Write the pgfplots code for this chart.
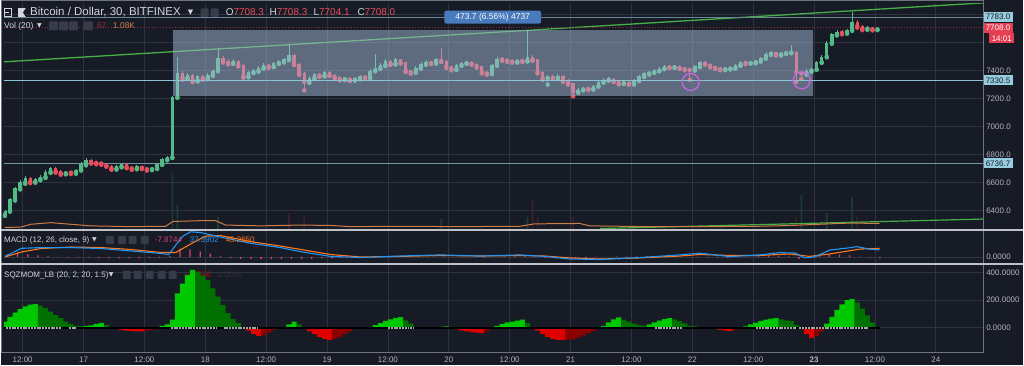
\documentclass[border=0pt]{standalone}
\usepackage{pgfplots}
\pgfplotsset{compat=1.18}
\usepackage{pgfplotstable}
\usepackage{fontspec}
\setmainfont{Liberation Sans}
\newfontfamily\symfont{DejaVu Sans}
\newcommand{\fs}[1]{\fontsize{#1}{#1}\selectfont}
\definecolor{bg}{RGB}{23,27,38}
\definecolor{gridc}{RGB}{46,51,66}
\definecolor{upc}{RGB}{83,185,135}
\definecolor{dnc}{RGB}{235,77,92}
\definecolor{axtext}{RGB}{178,181,190}
\definecolor{titlec}{RGB}{209,212,220}
\definecolor{lblue}{RGB}{150,205,222}
\definecolor{hlA}{RGB}{105,135,150}
\definecolor{hlB}{RGB}{140,195,215}
\definecolor{hlC}{RGB}{115,150,165}
\definecolor{redbox}{RGB}{230,62,82}
\definecolor{pline}{RGB}{150,40,55}
\definecolor{tgreen}{RGB}{70,175,70}
\definecolor{macdblue}{RGB}{33,150,243}
\definecolor{macdorange}{RGB}{255,120,30}
\definecolor{macdhist}{RGB}{215,65,110}
\definecolor{volma}{RGB}{205,125,70}
\definecolor{volg}{RGB}{28,62,48}
\definecolor{volr}{RGB}{62,32,42}
\definecolor{sqlime}{RGB}{0,200,0}
\definecolor{sqdark}{RGB}{0,112,0}
\definecolor{sqred}{RGB}{225,0,0}
\definecolor{sqmaroon}{RGB}{140,0,0}
\definecolor{measure}{RGB}{165,185,215}
\definecolor{measbox}{RGB}{72,122,188}
\definecolor{circ}{RGB}{200,100,225}
\definecolor{sepc}{RGB}{190,193,200}
\definecolor{borderc}{RGB}{110,115,125}
\definecolor{btn}{RGB}{55,60,74}

\pgfplotstableread{
t o c h l
8.5 6370 6395 6400 6360
9.5 6395 6480 6490 6390
10.5 6480 6560 6570 6470
11.5 6560 6600 6615 6550
12.5 6600 6630 6645 6590
13.5 6630 6605 6640 6595
14.5 6605 6625 6635 6598
15.5 6625 6640 6650 6615
16.5 6640 6675 6690 6632
17.5 6675 6700 6712 6668
18.5 6700 6680 6708 6670
19.5 6680 6665 6688 6655
20.5 6665 6675 6684 6658
21.5 6675 6670 6682 6660
22.5 6670 6690 6698 6662
23.5 6690 6730 6745 6685
24.5 6730 6760 6775 6722
25.5 6760 6745 6768 6735
26.5 6745 6740 6752 6730
27.5 6740 6735 6750 6726
28.5 6735 6720 6742 6712
29.5 6720 6700 6728 6690
30.5 6700 6715 6722 6692
31.5 6715 6730 6738 6708
32.5 6730 6710 6736 6702
33.5 6710 6700 6718 6690
34.5 6700 6715 6722 6694
35.5 6715 6705 6720 6696
36.5 6705 6695 6712 6685
37.5 6695 6700 6708 6688
38.5 6700 6730 6738 6696
39.5 6730 6765 6775 6725
40.5 6765 6780 6792 6758
41.5 6780 7210 7220 6775
42.5 7210 7380 7497 7205
43.5 7380 7350 7395 7335
44.5 7350 7370 7385 7340
45.5 7370 7330 7378 7318
46.5 7330 7360 7372 7322
47.5 7360 7345 7368 7335
48.5 7345 7370 7380 7338
49.5 7370 7400 7412 7362
50.5 7400 7490 7564 7395
51.5 7490 7470 7505 7458
52.5 7470 7455 7480 7445
53.5 7455 7470 7482 7448
54.5 7470 7440 7475 7430
55.5 7440 7360 7445 7350
56.5 7360 7390 7400 7352
57.5 7390 7400 7412 7382
58.5 7400 7420 7430 7392
59.5 7420 7440 7452 7414
60.5 7440 7430 7448 7420
61.5 7430 7455 7465 7425
62.5 7455 7465 7478 7448
63.5 7465 7480 7492 7458
64.5 7480 7510 7588 7475
65.5 7510 7450 7518 7440
66.5 7450 7380 7458 7370
67.5 7380 7320 7388 7259
68.5 7320 7350 7362 7312
69.5 7350 7375 7385 7340
70.5 7375 7365 7384 7355
71.5 7365 7390 7400 7358
72.5 7390 7370 7395 7362
73.5 7370 7355 7378 7345
74.5 7355 7340 7362 7330
75.5 7340 7350 7358 7332
76.5 7350 7335 7356 7325
77.5 7335 7345 7352 7328
78.5 7345 7360 7368 7338
79.5 7360 7350 7366 7342
80.5 7350 7400 7410 7345
81.5 7400 7420 7521 7395
82.5 7420 7440 7452 7412
83.5 7440 7470 7486 7432
84.5 7470 7450 7478 7440
85.5 7450 7480 7490 7444
86.5 7480 7460 7486 7450
87.5 7460 7400 7465 7390
88.5 7400 7390 7408 7378
89.5 7390 7420 7430 7384
90.5 7420 7450 7462 7414
91.5 7450 7465 7475 7442
92.5 7465 7455 7472 7446
93.5 7455 7480 7490 7450
94.5 7480 7470 7564 7462
95.5 7470 7430 7476 7420
96.5 7430 7410 7436 7402
97.5 7410 7440 7450 7405
98.5 7440 7455 7465 7434
99.5 7455 7460 7470 7448
100.5 7460 7450 7466 7442
101.5 7450 7430 7456 7422
102.5 7430 7390 7434 7380
103.5 7390 7380 7396 7370
104.5 7380 7440 7450 7375
105.5 7440 7485 7496 7434
106.5 7485 7480 7492 7470
107.5 7480 7470 7488 7462
108.5 7470 7465 7478 7456
109.5 7465 7475 7484 7458
110.5 7475 7470 7482 7462
111.5 7470 7500 7690 7465
112.5 7500 7480 7515 7470
113.5 7480 7390 7486 7380
114.5 7390 7345 7396 7335
115.5 7345 7360 7372 7300
116.5 7360 7350 7368 7340
117.5 7350 7365 7375 7342
118.5 7365 7330 7370 7320
119.5 7330 7310 7338 7300
120.5 7310 7250 7315 7216
121.5 7250 7265 7275 7242
122.5 7265 7275 7284 7258
123.5 7275 7270 7282 7262
124.5 7270 7290 7298 7264
125.5 7290 7320 7330 7285
126.5 7320 7335 7345 7314
127.5 7335 7340 7352 7328
128.5 7340 7325 7346 7318
129.5 7325 7310 7330 7302
130.5 7310 7320 7328 7304
131.5 7320 7305 7325 7298
132.5 7305 7330 7338 7300
133.5 7330 7360 7368 7325
134.5 7360 7380 7390 7354
135.5 7380 7390 7398 7372
136.5 7390 7400 7410 7384
137.5 7400 7415 7424 7395
138.5 7415 7430 7440 7410
139.5 7430 7425 7438 7418
140.5 7425 7435 7444 7420
141.5 7435 7420 7440 7412
142.5 7420 7410 7426 7402
143.5 7410 7405 7418 7335
144.5 7405 7430 7440 7400
145.5 7430 7460 7470 7425
146.5 7460 7450 7466 7442
147.5 7450 7430 7456 7424
148.5 7430 7420 7436 7412
149.5 7420 7410 7426 7402
150.5 7410 7415 7422 7404
151.5 7415 7420 7428 7408
152.5 7420 7440 7448 7414
153.5 7440 7460 7468 7434
154.5 7460 7455 7466 7446
155.5 7455 7460 7468 7450
156.5 7460 7470 7478 7452
157.5 7470 7490 7500 7464
158.5 7490 7520 7530 7485
159.5 7520 7530 7540 7512
160.5 7530 7515 7536 7508
161.5 7515 7525 7532 7508
162.5 7525 7530 7538 7518
163.5 7530 7535 7581 7524
164.5 7535 7390 7540 7319
165.5 7390 7380 7398 7340
166.5 7380 7400 7410 7372
167.5 7400 7410 7418 7392
168.5 7410 7460 7470 7405
169.5 7460 7500 7512 7455
170.5 7500 7600 7612 7495
171.5 7600 7660 7672 7592
172.5 7660 7680 7692 7652
173.5 7680 7670 7690 7660
174.5 7670 7690 7700 7664
175.5 7690 7750 7819 7685
176.5 7750 7720 7760 7708
177.5 7720 7700 7726 7690
178.5 7700 7710 7718 7692
179.5 7710 7695 7715 7688
180.5 7695 7708 7710 7690
}\candles

\pgfplotstableread{
t v k
8.5 45 1
9.5 80 1
10.5 110 1
11.5 135 1
12.5 155 1
13.5 168 1
14.5 171 1
15.5 160 2
16.5 142 2
17.5 118 2
18.5 94 2
19.5 70 2
20.5 46 2
21.5 28 2
22.5 14 2
23.5 12 2
24.5 15 1
25.5 18 1
26.5 28 1
27.5 36 1
28.5 20 2
29.5 5 2
30.5 -5 3
31.5 -15 3
32.5 -20 3
33.5 -22 3
34.5 -25 3
35.5 -26 3
36.5 -20 4
37.5 -12 4
38.5 -4 4
39.5 15 1
40.5 25 1
41.5 60 1
42.5 250 1
43.5 320 1
44.5 383 1
45.5 419 1
46.5 405 2
47.5 380 2
48.5 347 2
49.5 285 2
50.5 226 2
51.5 165 2
52.5 106 2
53.5 65 2
54.5 34 2
55.5 5 2
56.5 -20 3
57.5 -45 3
58.5 -60 3
59.5 -55 4
60.5 -35 4
61.5 -15 4
62.5 -3 4
63.5 5 1
64.5 25 1
65.5 46 1
66.5 25 2
67.5 -3 3
68.5 -25 3
69.5 -45 3
70.5 -65 3
71.5 -80 3
72.5 -87 3
73.5 -80 4
74.5 -65 4
75.5 -45 4
76.5 -25 4
77.5 -5 4
78.5 2 1
79.5 3 1
80.5 5 1
81.5 20 1
82.5 35 1
83.5 50 1
84.5 62 1
85.5 72 1
86.5 77 1
87.5 55 2
88.5 30 2
89.5 8 2
90.5 5 2
91.5 4 2
92.5 6 1
93.5 5 2
94.5 8 1
95.5 10 1
96.5 4 2
97.5 -10 3
98.5 -18 3
99.5 -25 3
100.5 -30 3
101.5 -35 3
102.5 -38 3
103.5 -25 4
104.5 -8 4
105.5 15 1
106.5 28 1
107.5 40 1
108.5 46 1
109.5 52 1
110.5 60 1
111.5 35 2
112.5 5 2
113.5 -20 3
114.5 -45 3
115.5 -65 3
116.5 -80 3
117.5 -87 3
118.5 -87 3
119.5 -86 4
120.5 -84 4
121.5 -70 4
122.5 -55 4
123.5 -40 4
124.5 -22 4
125.5 -5 4
126.5 15 1
127.5 40 1
128.5 62 1
129.5 75 1
130.5 60 2
131.5 45 2
132.5 30 2
133.5 20 2
134.5 15 2
135.5 25 1
136.5 40 1
137.5 52 1
138.5 63 1
139.5 70 1
140.5 62 2
141.5 48 2
142.5 32 2
143.5 15 2
144.5 10 2
145.5 5 2
146.5 2 2
147.5 -2 3
148.5 -8 3
149.5 -15 3
150.5 -20 3
151.5 -22 3
152.5 -12 4
153.5 -3 4
154.5 10 1
155.5 25 1
156.5 38 1
157.5 50 1
158.5 60 1
159.5 66 1
160.5 70 1
161.5 62 2
162.5 55 2
163.5 50 2
164.5 20 2
165.5 -10 3
166.5 -45 3
167.5 -75 3
168.5 -60 4
169.5 -25 4
170.5 30 1
171.5 80 1
172.5 130 1
173.5 170 1
174.5 200 1
175.5 209 1
176.5 185 2
177.5 140 2
178.5 90 2
179.5 40 2
180.5 8 2
}\sqz

\pgfplotstableread{
t v
9 15
11 22
13 15
15 8
17 4
19 -2
21 -3
23 -4
25 -4
27 -5
29 -7
31 -8
33 -8
35 -7
37 -6
39 -5
41 5
43 45
45 40
47 30
49 18
51 5
53 -6
55 -10
57 -11
59 -12
61 -12
63 -11
65 -10
67 -11
69 -10
71 -8
73 -7
75 -5
77 -4
79 -3
81 -2
83 2
85 4
87 3
89 1
91 2
93 3
95 2
97 -1
99 -2
101 -2
103 -3
105 1
107 3
109 3
111 4
113 -1
115 -5
117 -7
119 -8
121 -7
123 -5
125 -2
127 1
129 3
131 2
133 3
135 4
137 5
139 4
141 3
143 1
145 2
147 -2
149 -3
151 -4
153 -2
155 1
157 3
159 5
161 4
163 3
165 -10
167 -6
169 8
171 14
173 12
175 9
177 2
179 -4
181 -8
}\macdhist

\pgfplotsset{
  upf/.style={restrict expr to domain={\thisrow{c}-\thisrow{o}}{0:100000}},
  dnf/.style={restrict expr to domain={\thisrow{o}-\thisrow{c}}{0.05:100000}},
  kis/.style={restrict expr to domain={\thisrow{k}-#1}{-0.5:0.5}},
  tv/.style={scale only axis, width=981pt, xmin=8.32, xmax=201.31,
    axis line style={draw=none}, tick style={draw=none},
    xtick={12,24,...,192}, xticklabels={},
    xmajorgrids, ymajorgrids,
    major grid style={draw=gridc, line width=0.8pt},
    yticklabel pos=right,
    yticklabel style={font=\fs{8}, text=axtext, anchor=west, inner sep=0pt, xshift=3pt},
    clip mode=individual, anchor=south west},
  wick/.style={only marks, mark=none, forget plot, error bars/.cd, y dir=plus, y explicit, error mark=none, error bar style={line width=0.8pt}},
  body/.style={only marks, mark=none, forget plot, error bars/.cd, y dir=plus, y explicit, error mark=none, error bar style={line width=3.4pt}},
}
\tikzset{btnst/.style={fill=btn, rounded corners=1pt, draw=none}}

\begin{document}
\begin{tikzpicture}
\fill[bg] (0,0) rectangle (1024pt,365pt);

% ---------------- volume overlay (behind price) ----------------
\begin{axis}[scale only axis, width=981pt, height=226pt, at={(3pt,136pt)}, anchor=south west,
  xmin=8.32, xmax=201.31, ymin=0, ymax=56.5, hide axis]
  \addplot[ybar, bar width=1.6pt, bar shift=0pt, fill=volg, draw=none] coordinates {(41.5,14) (42.5,6) (50.5,3) (94.5,2.5) (111.5,3) (165.5,8.5) (170.5,4) (175.5,8)};
  \addplot[ybar, bar width=1.6pt, bar shift=0pt, fill=volr, draw=none] coordinates {(64.5,4) (67.5,3) (112.5,7.2) (113.5,3) (120.5,3) (164.5,3) (176.5,3)};
\end{axis}

% ---------------- price panel ----------------
\begin{axis}[tv, at={(3pt,136pt)}, height=226pt,
  ymin=6266.4, ymax=7880.7,
  ytick={6400,6600,6800,7000,7200,7400,7600,7800},
  yticklabels={6400.0,6600.0,6800.0,7000.0,7200.0,7400.0,,},
  axis background/.style={fill=none}]
  \addplot[tgreen, line width=1.3pt, forget plot] coordinates {(8.32,7463) (201.31,7885)};
  \addplot[tgreen, line width=1.2pt, forget plot] coordinates {(125.8,6270) (201.31,6338)};
  \addplot[pline, line width=0.9pt, dotted, forget plot] coordinates {(8.32,7708) (201.31,7708)};
  \addplot[hlA, line width=1.2pt, forget plot] coordinates {(8.32,7783) (201.31,7783)};
  \addplot[hlC, line width=1.2pt, forget plot] coordinates {(8.32,6736.7) (201.31,6736.7)};
  % candles
  \addplot[upc, upf, wick] table[x=t, y=l, y error plus expr=\thisrow{h}-\thisrow{l}] {\candles};
  \addplot[dnc, dnf, wick] table[x=t, y=l, y error plus expr=\thisrow{h}-\thisrow{l}] {\candles};
  \addplot[upc, upf, body] table[x=t, y=o, y error plus expr=\thisrow{c}-\thisrow{o}] {\candles};
  \addplot[dnc, dnf, body] table[x=t, y=c, y error plus expr=\thisrow{o}-\thisrow{c}] {\candles};
  % measurement overlay
  \addplot[fill=measure, fill opacity=0.5, draw=none, forget plot] coordinates {(41.6,7216) (167.7,7216) (167.7,7690) (41.6,7690)} --cycle;
  \addplot[hlB, line width=1.3pt, forget plot] coordinates {(8.32,7330.5) (201.31,7330.5)};
  \addplot[only marks, mark=o, mark size=8.5pt, circ, line width=1.3pt, forget plot] coordinates {(143.67,7319) (165.56,7331)};
  \node[fill=measbox, rounded corners=2pt, text=white, font=\fs{8.5}, minimum width=97pt, minimum height=13pt, inner sep=1pt] at (axis cs:104.65,7783) {473.7 (6.56\%) 4737};
  % right labels
  \node[anchor=west, fill=lblue, text=bg, font=\fs{8}, inner xsep=2.5pt, inner ysep=1.5pt, minimum height=10pt] at (axis cs:201.31,7783) {7783.0};
  \node[anchor=west, fill=lblue, text=bg, font=\fs{8}, inner xsep=2.5pt, inner ysep=1.5pt, minimum height=10pt] at (axis cs:201.31,7330.5) {7330.5};
  \node[anchor=west, fill=lblue, text=bg, font=\fs{8}, inner xsep=2.5pt, inner ysep=1.5pt, minimum height=10pt] at (axis cs:201.31,6736.7) {6736.7};
  \node[anchor=west, fill=redbox, text=white, font=\fs{8}, inner xsep=2.5pt, inner ysep=1.5pt, minimum height=10pt] at (axis cs:201.31,7708) {7708.0};
  \node[anchor=west, fill=redbox, text=white, font=\fs{8}, inner xsep=2.5pt, inner ysep=1.5pt, minimum height=10pt, xshift=6pt] at (axis cs:201.31,7630.7) {14:01};
\end{axis}

% ---------------- volume MA ----------------
\begin{axis}[scale only axis, width=981pt, height=226pt, at={(3pt,136pt)}, anchor=south west,
  xmin=8.32, xmax=201.31, ymin=0, ymax=56.5, hide axis]
  \addplot[volma, line width=1pt] coordinates {(8.5,0.4) (11.7,0.5) (13.6,1.2) (17.6,1.6) (20.5,1.3) (25.4,0.8) (33.3,0.6) (40.2,0.7) (41.6,1.9) (47.1,2.1) (50.0,2.1) (52.0,1.0) (58.9,0.8) (66.8,1.0) (72.7,0.9) (76.6,0.6) (86.4,0.7) (98.2,0.6) (110.0,0.7) (112.9,1.3) (121.8,1.4) (123.8,0.8) (135.6,0.6) (145.5,0.6) (157.3,0.7) (163.2,0.9) (167.1,1.1) (171.1,1.3) (175.0,1.5) (180.9,1.4)};
\end{axis}

% ---------------- MACD panel ----------------
\begin{axis}[tv, at={(3pt,102pt)}, height=32pt,
  ymin=-32, ymax=138, ytick={0}, yticklabels={0.0000}]
  \addplot[ybar, bar width=1.3pt, bar shift=0pt, fill=macdhist, draw=none] table[x=t, y=v] {\macdhist};
  \addplot[macdorange, line width=1.1pt] coordinates {(8.5,0) (11.7,26) (15.6,45) (21.5,53) (27.4,50) (33.3,40) (39.2,24) (42.2,24) (45.1,69) (48.1,111) (51.0,114) (56.9,82) (62.8,58) (66.8,40) (72.7,13) (78.6,0) (86.4,3) (94.3,8) (102.2,5) (110.0,8) (114.9,5) (119.9,-5) (125.8,-11) (133.7,-5) (141.5,5) (145.5,13) (151.4,8) (157.3,8) (163.2,16) (167.1,3) (171.1,16) (177.0,42) (180.9,45.3)};
  \addplot[macdblue, line width=1.1pt] coordinates {(8.5,3) (11.7,46) (15.6,50) (21.5,50) (27.4,45) (33.3,32) (39.2,19) (40.8,13) (42.2,64) (43.6,111) (45.1,134) (47.1,130) (51.0,106) (56.9,73) (62.8,50) (66.8,28) (72.7,3) (78.6,-3) (86.4,5) (94.3,11) (102.2,5) (110.0,11) (114.9,3) (119.9,-11) (125.8,-13) (133.7,-3) (141.5,11) (145.5,20) (151.4,2) (157.3,11) (161.2,23) (164.2,21) (166.1,-4) (168.1,0) (171.1,37) (175.0,49) (176.4,55) (178.9,42) (180.9,37.4)};
\end{axis}

% SQZ header label drawn first so the histogram covers it, as in the reference
\node[anchor=west, inner sep=0pt, text=sqred, font=\fs{8}] at (183pt,90pt) {-1.5896};
\node[anchor=west, inner sep=0pt, text=black!80, font=\fs{8}] at (217pt,90pt) {0.0000};

% ---------------- SQZMOM panel ----------------
\begin{axis}[tv, at={(3pt,12pt)}, height=88pt,
  ymin=-180.5, ymax=454.9, ytick={0,200,400}, yticklabels={0.0000,200.0000,400.0000},
  xticklabels={12:00,17,12:00,18,12:00,19,12:00,20,12:00,21,12:00,22,12:00,\textbf{23},12:00,24},
  xticklabel style={font=\fs{8}, text=axtext, anchor=center, yshift=-7pt}]
  \addplot[ybar, bar width=5.1pt, bar shift=0pt, fill=sqlime, draw=none, kis=1] table[x=t, y=v] {\sqz};
  \addplot[ybar, bar width=5.1pt, bar shift=0pt, fill=sqdark, draw=none, kis=2] table[x=t, y=v] {\sqz};
  \addplot[ybar, bar width=5.1pt, bar shift=0pt, fill=sqred, draw=none, kis=3] table[x=t, y=v] {\sqz};
  \addplot[ybar, bar width=5.1pt, bar shift=0pt, fill=sqmaroon, draw=none, kis=4] table[x=t, y=v] {\sqz};
  \addplot[black, line width=1.8pt] coordinates {(8.3,0) (181,0)};
  \addplot[gray!70, line width=1.6pt, dash pattern=on 2pt off 0.8pt] coordinates {(8.7,0) (19.5,0)};
  \addplot[gray!70, line width=1.6pt, dash pattern=on 2pt off 0.8pt] coordinates {(21.1,0) (22.5,0)};
  \addplot[gray!70, line width=1.6pt, dash pattern=on 2pt off 0.8pt] coordinates {(41.2,0) (50.4,0)};
  \addplot[gray!70, line width=1.6pt, dash pattern=on 2pt off 0.8pt] coordinates {(51.6,0) (58.3,0)};
  \addplot[gray!70, line width=1.6pt, dash pattern=on 2pt off 0.8pt] coordinates {(84.0,0) (89.0,0)};
  \addplot[gray!70, line width=1.6pt, dash pattern=on 2pt off 0.8pt] coordinates {(136.6,0) (141.9,0)};
  \addplot[gray!70, line width=1.6pt, dash pattern=on 2pt off 0.8pt] coordinates {(156.6,0) (164.5,0)};
  \addplot[gray!70, line width=1.6pt, dash pattern=on 2pt off 0.8pt] coordinates {(165.1,0) (178.6,0)};
\end{axis}

% ---------------- frame and separators ----------------
\draw[borderc, line width=1pt] (0.5pt,12pt) -- (0.5pt,364.5pt) -- (984pt,364.5pt);
\draw[borderc, line width=1pt] (0pt,12pt) -- (984pt,12pt);
\draw[borderc, line width=1pt] (984pt,12pt) -- (984pt,365pt);
\draw[sepc, line width=2pt] (0pt,135.5pt) -- (1024pt,135.5pt);
\draw[sepc, line width=2pt] (0pt,100.7pt) -- (1024pt,100.7pt);

% ---------------- header texts ----------------
\draw[titlec, line width=0.8pt] (3pt,349pt) rectangle (10pt,357pt);
\draw[titlec, line width=0.8pt] (4.5pt,353pt) -- (8.5pt,353pt);
\fill[titlec] (17pt,348.5pt) rectangle (25pt,357.5pt);
\fill[bg] (22pt,353pt) -- (25pt,357.5pt) -- (25pt,348.5pt) -- cycle;
\node[anchor=west, inner sep=0pt, text=titlec, font=\fs{11.5}] at (29pt,353pt) {Bitcoin / Dollar, 30, BITFINEX};
\node[anchor=west, inner sep=0pt, text=titlec, font=\symfont\fs{7}] at (187pt,353pt) {▼};
\fill[btnst] (200pt,348.5pt) rectangle (208pt,357pt);
\fill[btnst] (210pt,348.5pt) rectangle (218pt,357pt);
\node[anchor=west, inner sep=0pt, font=\fs{10}] at (225pt,353pt) {\textcolor{titlec}{O}\textcolor{dnc}{7708.3}};
\node[anchor=west, inner sep=0pt, font=\fs{10}] at (269pt,353pt) {\textcolor{titlec}{H}\textcolor{dnc}{7708.3}};
\node[anchor=west, inner sep=0pt, font=\fs{10}] at (313pt,353pt) {\textcolor{titlec}{L}\textcolor{dnc}{7704.1}};
\node[anchor=west, inner sep=0pt, font=\fs{10}] at (357pt,353pt) {\textcolor{titlec}{C}\textcolor{dnc}{7708.0}};

\node[anchor=west, inner sep=0pt, text=titlec, font=\fs{8.5}] at (3pt,339.5pt) {Vol (20)};
\node[anchor=west, inner sep=0pt, text=titlec, font=\symfont\fs{6}] at (36pt,339.5pt) {▼};
\fill[btnst] (48pt,335pt) rectangle (57pt,344pt);
\fill[btnst] (58pt,335pt) rectangle (67pt,344pt);
\fill[btnst] (68pt,335pt) rectangle (77pt,344pt);
\fill[btnst] (83pt,335pt) rectangle (92pt,344pt);
\node[anchor=west, inner sep=0pt, text=pline, font=\fs{8.5}] at (96pt,339.5pt) {67};
\node[anchor=west, inner sep=0pt, text=volma, font=\fs{8.5}] at (112pt,339.5pt) {1.08K};

\node[anchor=west, inner sep=0pt, text=titlec, font=\fs{8}] at (3pt,125pt) {MACD (12, 26, close, 9)};
\node[anchor=west, inner sep=0pt, text=titlec, font=\symfont\fs{6}] at (91pt,125pt) {▼};
\fill[btnst] (105pt,121pt) rectangle (113pt,129pt);
\fill[btnst] (117pt,121pt) rectangle (125pt,129pt);
\fill[btnst] (128pt,121pt) rectangle (136pt,129pt);
\fill[btnst] (140pt,121pt) rectangle (148pt,129pt);
\node[anchor=west, inner sep=0pt, text=macdhist, font=\fs{8}] at (154pt,125pt) {-7.8744};
\node[anchor=west, inner sep=0pt, text=macdblue, font=\fs{8}] at (189pt,125pt) {37.3902};
\node[anchor=west, inner sep=0pt, text=macdorange, font=\fs{8}] at (225pt,125pt) {45.2650};

\node[anchor=west, inner sep=0pt, text=titlec, font=\fs{8}] at (3pt,90pt) {SQZMOM\_LB (20, 2, 20, 1.5)};
\node[anchor=west, inner sep=0pt, text=titlec, font=\symfont\fs{6}] at (108pt,90pt) {▼};
\fill[btnst] (122pt,86pt) rectangle (130pt,94pt);
\fill[btnst] (133pt,86pt) rectangle (141pt,94pt);
\fill[btnst] (145pt,86pt) rectangle (153pt,94pt);
\fill[btnst] (157pt,86pt) rectangle (165pt,94pt);
\fill[btnst] (168pt,86pt) rectangle (176pt,94pt);
\end{tikzpicture}
\end{document}
